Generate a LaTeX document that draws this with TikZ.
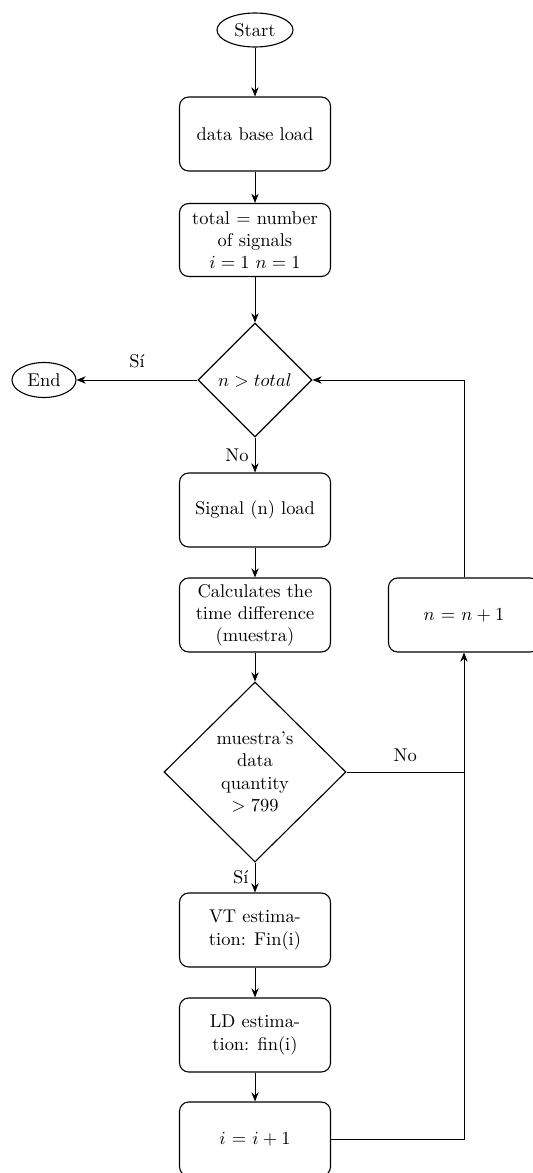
\documentclass[tikz,border=0pt]{standalone}
\usetikzlibrary{shapes.geometric,arrows.meta}
\begin{document}
\begin{tikzpicture}[x=0.542pt,y=-0.542pt,
  box/.style={draw,semithick,rounded corners=5pt,align=center,minimum width=151*0.542pt,minimum height=74*0.542pt,inner sep=2pt},
  term/.style={draw,semithick,ellipse,inner sep=0pt},
  dec/.style={draw,semithick,diamond,aspect=1,inner sep=0pt,align=center},
  arr/.style={-{Stealth[length=5pt,width=4pt]}},
  line/.style={draw}]
\useasboundingbox (0,0) rectangle (533,1173);
\clip (0,0) rectangle (533,1173);
\node[term,minimum width=76*0.542pt,minimum height=34*0.542pt] (start) at (255,30) {Start};
\node[box] (db) at (255,134) {data base load};
\node[box,minimum height=73*0.542pt] (tot) at (255,240) {total = number\\of signals\\$i = 1$ $n = 1$};
\node[dec,minimum width=114*0.542pt,minimum height=114*0.542pt] (d1) at (255,380) {$n > total$};
\node[term,minimum width=64*0.542pt,minimum height=35*0.542pt] (endn) at (44,380) {End};
\node[box] (sig) at (255,510) {Signal (n) load};
\node[box] (calc) at (255,615) {Calculates the\\time difference\\(muestra)};
\node[box] (inc) at (464,615) {$n$ = $n+1$};
\node[dec,minimum width=182*0.542pt,minimum height=180*0.542pt] (d2) at (255,772) {muestra's\\data\\quantity\\$>799$};
\node[box] (vt) at (255,930) {VT estima-\\tion: Fin(i)};
\node[box] (ld) at (255,1035) {LD estima-\\tion: fin(i)};
\node[box] (ii) at (255,1139) {$i$ = $i+1$};
\coordinate (j) at (inc.south |- d2.east);
\draw[arr] (start) -- (db);
\draw[arr] (db) -- (tot);
\draw[arr] (tot) -- (d1);
\draw[arr] (d1.west) -- node[above,yshift=3pt] {Sí} (endn.east);
\draw[arr] (d1.south) -- node[left] {No} (sig.north);
\draw[arr] (sig) -- (calc);
\draw[arr] (calc) -- (d2);
\draw[arr] (d2.south) -- node[left] {Sí} (vt.north);
\draw[arr] (vt) -- (ld);
\draw[arr] (ld) -- (ii);
\draw (d2.east) -- node[above,yshift=2pt] {No} (j);
\draw[arr] (ii.east) -| (inc.south);
\draw[arr] (inc.north) |- (d1.east);
\end{tikzpicture}
\end{document}
